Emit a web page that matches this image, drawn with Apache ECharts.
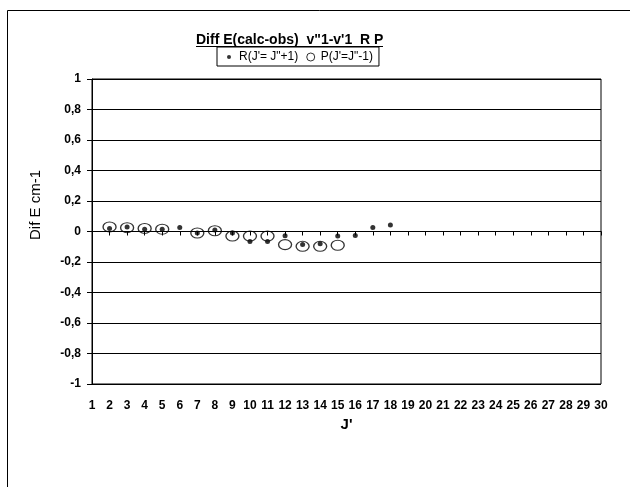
<!DOCTYPE html>
<html>
<head>
<meta charset="utf-8">
<script src="https://cdn.jsdelivr.net/npm/echarts@6/dist/echarts.min.js"></script>
<style>
html,body{margin:0;padding:0;background:#fff;}
#c{width:630px;height:487px;}
</style>
</head>
<body>
<div id="c"></div>
<script>
var titleText = 'Diff E(calc-obs)  v"1-v\'1  R P';
var xName = "J'";
var yName = 'Dif E cm-1';
var seriesNames = ['R(J\'= J"+1)', 'P(J\'=J"-1)'];
var rJ = [2, 3, 4, 5, 6, 7, 8, 9, 10, 11, 12, 13, 14, 15, 16, 17, 18];
var rVal = [0.02, 0.03, 0.015, 0.015, 0.026, -0.01, 0.01, -0.01, -0.065, -0.065, -0.028, -0.086, -0.08, -0.03, -0.026, 0.026, 0.043];
var pJ = [2, 3, 4, 5, 7, 8, 9, 10, 11, 12, 13, 14, 15];
var pVal = [0.03, 0.025, 0.02, 0.015, -0.01, 0.005, -0.03, -0.03, -0.03, -0.086, -0.097, -0.097, -0.09];

function pairs(xs, ys) { return xs.map(function (x, i) { return [x, ys[i]]; }); }

var chart = echarts.init(document.getElementById('c'), null, {renderer: 'canvas'});
var font = 'Liberation Sans, Arial, sans-serif';
chart.setOption({
  animation: false,
  backgroundColor: '#fff',
  textStyle: {fontFamily: font},
  grid: {left: 92, top: 79, right: 29, bottom: 103, show: true, borderColor: '#000', borderWidth: 1},
  title: {
    text: titleText,
    left: 196, top: 33, padding: 0,
    textStyle: {fontSize: 14, fontWeight: 'bold', color: '#000', fontFamily: font}
  },
  legend: {
    left: 217, top: 47,
    padding: [4, 6, 3, 8],
    borderColor: '#000', borderWidth: 1,
    itemGap: 8,
    itemWidth: 10, itemHeight: 8,
    textStyle: {fontSize: 12, color: '#000', fontFamily: font},
    data: [
      {name: seriesNames[0], icon: 'path://M0,0 M10,10 M2.5,5 a2.5,2.5 0 1,0 5,0 a2.5,2.5 0 1,0 -5,0 Z', itemStyle: {color: '#000'}},
      {name: seriesNames[1], icon: 'circle', itemStyle: {color: 'rgba(0,0,0,0)', borderColor: '#000', borderWidth: 1}}
    ]
  },
  xAxis: {
    type: 'value', min: 1, max: 30, interval: 1,
    name: xName, nameLocation: 'middle', nameGap: 31,
    nameTextStyle: {fontSize: 15, fontWeight: 'bold', color: '#000', fontFamily: font},
    axisLine: {show: true, lineStyle: {color: '#000', width: 1}},
    axisTick: {show: true, inside: false, length: 4, lineStyle: {color: '#000'}},
    axisLabel: {fontSize: 12, fontWeight: 'bold', color: '#000', margin: 16, fontFamily: font},
    splitLine: {show: false}
  },
  yAxis: {
    type: 'value', min: -1, max: 1, interval: 0.2,
    axisLine: {show: true, onZero: false, lineStyle: {color: '#000', width: 1}},
    axisTick: {show: true, length: 5, lineStyle: {color: '#000'}},
    axisLabel: {
      fontSize: 12, fontWeight: 'bold', color: '#000', margin: 11, fontFamily: font,
      formatter: function (v) { var s = (Math.round(v * 10) / 10).toString(); return s.replace('.', ','); }
    },
    splitLine: {show: true, lineStyle: {color: '#000', width: 1}}
  },
  graphic: [
    {type: 'rect', shape: {x: 7.5, y: 10.5, width: 640, height: 500}, style: {fill: 'none', stroke: '#000', lineWidth: 1}, z: -1},
    {type: 'line', shape: {x1: 196, y1: 46.5, x2: 383, y2: 46.5}, style: {stroke: '#000', lineWidth: 1.2}},
    {type: 'text', x: 36, y: 205, rotation: Math.PI / 2,
     style: {text: yName, font: '15px ' + font, fill: '#000', textAlign: 'center', textVerticalAlign: 'middle'}}
  ],
  series: [
    {
      name: seriesNames[1], type: 'scatter', data: pairs(pJ, pVal),
      symbol: 'circle', symbolSize: [13, 10],
      itemStyle: {color: 'rgba(0,0,0,0)', borderColor: '#000', borderWidth: 1.2}, z: 2
    },
    {
      name: seriesNames[0], type: 'scatter', data: pairs(rJ, rVal),
      symbol: 'circle', symbolSize: 5,
      itemStyle: {color: '#000'}, z: 3
    }
  ]
});
</script>
</body>
</html>
